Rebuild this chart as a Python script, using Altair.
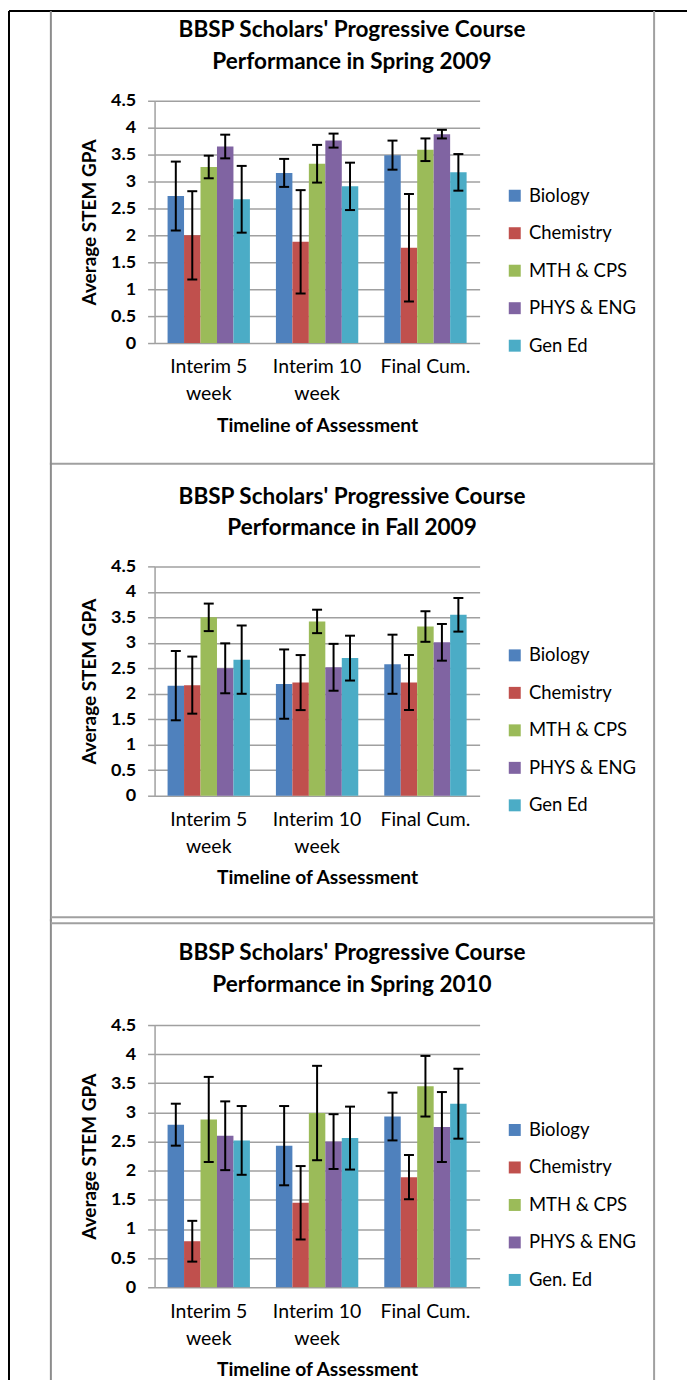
import altair as alt
import pandas as pd

FONT = "Lato"

STAGES = ["Interim 5\nweek", "Interim 10\nweek", "Final Cum."]
COLORS = ["#4F81BD", "#C0504D", "#9BBB59", "#8064A2", "#4BACC6"]
Y_TICKS = [0, 0.5, 1, 1.5, 2, 2.5, 3, 3.5, 4, 4.5]
X_TITLE = "Timeline of Assessment"

# ---- Spring 2009 ----
TITLE_1 = "BBSP Scholars' Progressive Course\nPerformance in Spring 2009"
YTITLE_1 = "Average STEM  GPA"
COURSES_1 = ["Biology", "Chemistry", "MTH & CPS", "PHYS &  ENG", "Gen Ed"]
GPA_1 = [
    [2.73, 3.16, 3.49],
    [2.00, 1.88, 1.77],
    [3.27, 3.33, 3.59],
    [3.65, 3.76, 3.88],
    [2.67, 2.91, 3.17],
]
ERR_1 = [
    [0.64, 0.26, 0.27],
    [0.82, 0.96, 1.00],
    [0.21, 0.35, 0.21],
    [0.22, 0.13, 0.08],
    [0.62, 0.44, 0.34],
]

# ---- Fall 2009 ----
TITLE_2 = "BBSP Scholars' Progressive Course\nPerformance in Fall 2009"
YTITLE_2 = "Average STEM GPA"
COURSES_2 = ["Biology", "Chemistry", "MTH & CPS", "PHYS & ENG", "Gen Ed"]
GPA_2 = [
    [2.16, 2.19, 2.58],
    [2.17, 2.22, 2.22],
    [3.50, 3.42, 3.32],
    [2.50, 2.52, 3.01],
    [2.67, 2.70, 3.55],
]
ERR_2 = [
    [0.68, 0.68, 0.58],
    [0.56, 0.54, 0.54],
    [0.27, 0.23, 0.30],
    [0.49, 0.46, 0.36],
    [0.67, 0.44, 0.33],
]

# ---- Spring 2010 ----
TITLE_3 = "BBSP Scholars' Progressive Course\nPerformance in Spring 2010"
YTITLE_3 = "Average STEM GPA"
COURSES_3 = ["Biology", "Chemistry", "MTH & CPS", "PHYS & ENG", "Gen. Ed"]
GPA_3 = [
    [2.79, 2.43, 2.93],
    [0.79, 1.45, 1.89],
    [2.88, 2.99, 3.45],
    [2.60, 2.50, 2.75],
    [2.52, 2.56, 3.15],
]
ERR_3 = [
    [0.36, 0.68, 0.41],
    [0.35, 0.63, 0.38],
    [0.73, 0.81, 0.52],
    [0.59, 0.47, 0.60],
    [0.59, 0.54, 0.60],
]

W = 326
GRID = "#a0a0a0"
BOX = "#a0a0a0"


def make_df(courses, gpa, err):
    rows = []
    for ci, c in enumerate(courses):
        for si, s in enumerate(STAGES):
            m = gpa[ci][si]
            e = err[ci][si]
            rows.append(dict(stage=s, course=c, gpa=m, lo=m - e, hi=m + e))
    return pd.DataFrame(rows)


def panel(title, ytitle, courses, gpa, err, H, title_y, legend_y, deco):
    df = make_df(courses, gpa, err)
    xaxis = alt.Axis(
        title=X_TITLE, labelExpr="split(datum.label, '\\n')", labelAngle=0,
        ticks=False, domain=False, labelPadding=15, labelLineHeight=27,
        labelFontSize=19.5, labelFont=FONT, labelColor="black",
        titleFontSize=19.3, titleFont=FONT, titleFontWeight="bold",
        titleColor="black", titlePadding=13,
    )
    x = alt.X("stage:N", sort=STAGES,
              scale=alt.Scale(domain=STAGES, paddingInner=0.24, paddingOuter=0.12),
              axis=xaxis)
    xo = alt.XOffset("course:N", sort=courses,
                     scale=alt.Scale(domain=courses, paddingInner=0, paddingOuter=0))
    yaxis = alt.Axis(
        values=Y_TICKS, title=ytitle, labelExpr="'' + datum.value",
        grid=True, gridColor=GRID, gridWidth=1.5,
        domainColor=GRID, domainWidth=1.5, tickColor=GRID, tickWidth=1.5,
        tickSize=7, labelPadding=12, labelFontSize=18, labelFont=FONT,
        labelFontWeight="bold", labelColor="black",
        titleFontSize=19, titleFont=FONT, titleFontWeight="bold",
        titleColor="black", titlePadding=11,
    )
    yscale = alt.Scale(domain=[0, 4.5], nice=False, zero=True)
    color = alt.Color(
        "course:N", sort=courses,
        scale=alt.Scale(domain=courses, range=COLORS),
        legend=alt.Legend(
            title=None, orient="none", legendX=352, legendY=legend_y,
            symbolType="square", symbolSize=144, symbolStrokeWidth=0,
            symbolOpacity=1, labelFontSize=18.5, labelFont=FONT,
            labelColor="black", rowPadding=18.6, labelOffset=5, padding=0,
        ),
    )
    bars = alt.Chart(df).mark_bar(opacity=1).encode(
        x=x, xOffset=xo, y=alt.Y("gpa:Q", scale=yscale, axis=yaxis), color=color
    )
    rules = alt.Chart(df).mark_rule(color="black", strokeWidth=2).encode(
        x=x, xOffset=xo, y=alt.Y("lo:Q", scale=yscale, axis=yaxis), y2="hi:Q"
    )
    cap_lo = alt.Chart(df).mark_tick(color="black", thickness=2, size=10,
                                     orient="horizontal", opacity=1).encode(
        x=x, xOffset=xo, y=alt.Y("lo:Q", scale=yscale, axis=yaxis)
    )
    cap_hi = alt.Chart(df).mark_tick(color="black", thickness=2, size=10,
                                     orient="horizontal", opacity=1).encode(
        x=x, xOffset=xo, y=alt.Y("hi:Q", scale=yscale, axis=yaxis)
    )
    ttl = alt.Chart(pd.DataFrame({"t": [title]})).mark_text(
        lineBreak="\n", font=FONT, fontSize=22.6, fontWeight="bold",
        align="center", baseline="middle", lineHeight=32, color="black",
    ).encode(x=alt.value(198), y=alt.value(title_y), text="t:N")

    dummy = pd.DataFrame({"d": [0]})
    deco_layers = []
    for (x1, x2, y1, y2, col, sw) in deco:
        enc = dict(x=alt.value(x1), y=alt.value(y1))
        if x2 is not None:
            enc["x2"] = alt.value(x2)
        if y2 is not None:
            enc["y2"] = alt.value(y2)
        deco_layers.append(
            alt.Chart(dummy).mark_rule(color=col, strokeWidth=sw).encode(**enc)
        )
    return alt.layer(*deco_layers, ttl, bars, rules, cap_lo, cap_hi).properties(
        width=W, height=H
    )


L_OUT, L_COL, R_COL = -146, -104, 501

deco1 = [
    (L_OUT, 534, -90, None, "black", 2),
    (L_OUT, None, -90, 365, "black", 2),
    (L_COL, None, -90, 365, "#8c8c8c", 2),
    (R_COL, None, -90, 365, BOX, 2),
    (L_COL, R_COL, 364, None, BOX, 2),
]
deco2 = [
    (L_OUT, None, -104, 356, "black", 2),
    (L_COL, None, -104, 356, "#8c8c8c", 2),
    (R_COL, None, -104, 356, BOX, 2),
    (L_COL, R_COL, 352, None, BOX, 2),
]
deco3 = [
    (L_OUT, None, -106, 360, "black", 2),
    (L_COL, None, -106, 360, "#8c8c8c", 2),
    (R_COL, None, -106, 360, BOX, 2),
    (L_COL, R_COL, -102, None, BOX, 2),
]

p1 = panel(TITLE_1, YTITLE_1, COURSES_1, GPA_1, ERR_1, 243, -71, 86, deco1)
p2 = panel(TITLE_2, YTITLE_2, COURSES_2, GPA_2, ERR_2, 230, -70, 80, deco2)
p3 = panel(TITLE_3, YTITLE_3, COURSES_3, GPA_3, ERR_3, 263, -72, 96, deco3)

chart = (
    alt.vconcat(p1, p2, p3, spacing=-4)
    .resolve_scale(color="independent", x="independent", y="independent",
                   xOffset="independent")
    .resolve_legend(color="independent")
    .properties(padding=0, background="white")
    .configure_view(strokeWidth=0)
)

chart.save("out.html", embed_options={"renderer": "svg", "actions": False})
